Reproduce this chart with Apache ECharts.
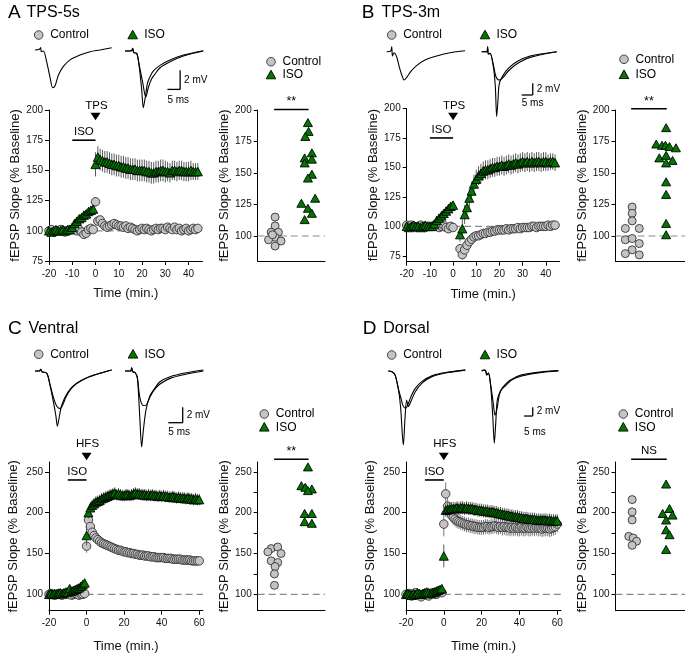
<!DOCTYPE html>
<html><head><meta charset="utf-8">
<script src="https://cdn.jsdelivr.net/npm/echarts@6/dist/echarts.min.js"></script>
<style>html,body{margin:0;padding:0;background:#fff}#c{width:685px;height:657px}</style>
</head><body><div id="c"></div>
<script>
// ================= DATA =================
const timeAB = [-20,-19,-18,-17,-16,-15,-14,-13,-12,-11,-10,-9,-8,-7,-6,-5,-4,-3,-2,-1,0,1,2,3,4,5,6,7,8,9,10,11,12,13,14,15,16,17,18,19,20,21,22,23,24,25,26,27,28,29,30,31,32,33,34,35,36,37,38,39,40,41,42,43,44];
const timeCD = [-20,-19,-18,-17,-16,-15,-14,-13,-12,-11,-10,-9,-8,-7,-6,-5,-4,-3,-2,-1,0,1,2,3,4,5,6,7,8,9,10,11,12,13,14,15,16,17,18,19,20,21,22,23,24,25,26,27,28,29,30,31,32,33,34,35,36,37,38,39,40,41,42,43,44,45,46,47,48,49,50,51,52,53,54,55,56,57,58,59,60];

const timeTicksAB = [-20,-10,0,10,20,30,40];
const timeTicksCD = [-20,0,20,40,60];
const slopeTicksAB = [75,100,125,150,175,200];
const scatterTicksAB = [100,125,150,175,200];
const slopeTicksCD = [100,150,200,250];
const scatterMinorTicksCD = [100,125,150,175,200,225,250];

// Panel A  (TPS-5s) time course
const aCtrl = [100,101,99,100,100,101,100,99,100,101, 101,102,100,101,99,97,98,101,102,101, 124,
  108,109,106,104,103,104,105,106,105,104, 104,103,104,102,103,102,101,100,101,102,
  101,102,101,100,101,102,101,102,102,101, 103,102,101,103,101,102,100,101,102,100, 101,102,101,102];
const aCtrlErr = [1,1,1,1,1,1,1,1,1,1, 2,2,2,2,2,2,2,2,2,2, 4,
  3,3,3,3,3,3,3,3,3,3, 3,3,3,3,3,3,3,3,3,3, 3,3,3,3,3,3,3,3,3,3, 3,3,3,3,3,3,3,3,3,3, 3,3,3,3];
const aIso = [100,99,100,101,100,100,101,100,101,101, 103,106,108,110,111,113,114,116,117,118, 155,
  161,159,158,157,157,156,155,155,154,154, 153,153,152,152,151,151,151,150,150,150,
  150,149,149,148,148,149,149,150,150,149, 149,148,150,150,149,150,150,149,149,149, 150,149,149,149];
const aIsoErr = [2,2,2,2,2,2,2,2,2,2, 3,3,3,3,3,3,3,3,3,3, 10,
  9,9,9,9,9,9,9,9,9,9, 9,9,9,9,9,9,9,9,9,9, 9,9,9,9,9,9,9,9,9,9, 8,8,8,8,8,8,8,8,8,8, 8,7,7,7];

// Panel B  (TPS-3m) time course (no recording during 3-min stimulation)
const bCtrl = [101,100,101,100,99,100,101,100,99,100, 100,100,101,100,99,100,101,99,98,100, 99, null,null,
  81,76,80,84,87,89,91,92, 92,93,94,94,95,95,96,96,97,97, 97,97,98,97,98,98,98,99,98,99,
  99,99,99,100,100,99,100,100,100,100, 101,100,101,101];
const bCtrlErr = [1,1,1,1,1,1,1,1,1,1, 1,1,1,1,1,1,1,1,1,1, 1, null,null,
  3,4,3,3,3,3,3,3, 3,3,3,3,3,3,3,3,3,3, 3,3,3,3,3,3,3,3,3,3, 3,3,3,3,3,3,3,3,3,3, 3,3,3,3];
const bIso = [100,99,100,101,100,100,99,100,101,100, 100,100,102,105,107,109,111,113,115,117, 118, null,null,
  93,98,110,116,124,130,136,140, 143,145,147,148,148,149,150,150,151,151,
  152,151,152,153,152,153,154,153,154,155, 154,155,154,155,154,155,155,154,155,155, 154,155,155,154];
const bIsoErr = [2,2,2,2,2,2,2,2,2,2, 2,2,3,3,3,3,3,3,3,3, 3, null,null,
  6,8,8,8,8,8,8,8, 8,8,8,8,8,8,8,8,8,8, 8,8,8,8,8,8,8,8,8,8, 8,8,8,8,8,8,8,8,8,8, 7,7,7,7];

// Panel C  (Ventral) time course
const cCtrl = [100,101,100,99,100,101,100,99,100,100, 101,100,99,100,101,100,99,100,100,101, 159,
  191,183,176,172,169,167,165,163,162,161, 160,159,158,157,156,155,154,154,153,152,
  152,151,151,150,150,149,149,148,148,148, 147,147,147,146,146,146,145,145,145,145,
  145,144,144,144,144,143,143,143,143,143, 142,142,142,142,142,141,141,141,141,141];
const cCtrlErr = [1,1,1,1,1,1,1,1,1,1, 1,1,1,1,1,1,1,1,1,1, 8,
  6,5,5,4,4,4,4,4,4,4, 4,4,4,4,4,4,4,4,4,4, 4,4,4,4,4,4,4,4,4,4, 4,4,4,4,4,4,4,4,4,4,
  4,4,4,4,4,4,4,4,4,4, 4,4,4,4,4,4,4,4,4,4];
const cIso = [100,101,100,101,100,101,102,101,102,103, 103,107,104,105,106,107,108,110,112,114, 172,
  200,206,209,211,213,214,215,217,218,219, 220,221,222,223,224,222,223,222,221,221,
  222,222,221,222,223,224,223,223,222,222, 222,221,222,221,222,221,221,220,221,220,
  221,220,220,219,219,220,219,218,219,218, 218,218,217,218,217,217,216,217,216,216];
const cIsoErr = [2,2,2,2,2,2,2,2,2,2, 2,2,2,2,2,2,2,2,2,2, 12,
  7,7,7,7,7,7,7,7,7,7, 7,7,7,7,7,7,7,7,7,7, 7,7,7,7,7,7,7,7,7,7, 7,7,7,7,7,7,7,7,7,7,
  7,7,7,7,7,7,7,7,7,7, 7,7,7,7,7,7,7,7,7,7];

// Panel D  (Dorsal) time course
const dCtrl = [100,99,101,98,100,102,99,100,97,100, 101,99,98,100,102,101,100,102,103,102, 186,
  223,208,201,197,194,192,190,189,188,187, 186,185,185,184,184,183,183,182,182,182,
  182,183,183,182,183,183,184,183,182,183, 182,183,182,182,181,182,181,182,181,181,
  182,181,181,182,181,181,182,181,182,181, 181,180,181,181,181,180,181,182,183,186];
const dCtrlErr = [2,2,2,2,2,2,2,2,2,2, 2,2,2,2,2,2,2,2,2,2, 15,
  14,10,9,9,9,9,9,9,9,9, 9,9,9,9,9,9,9,9,9,9, 9,9,9,9,9,9,9,9,9,9, 10,10,10,10,10,10,10,10,10,10,
  10,10,10,10,10,10,10,10,10,10, 10,10,10,10,10,10,10,10,10,10];
const dIso = [100,101,100,99,101,100,102,101,100,101, 102,103,102,101,102,103,104,105,106,107, 147,
  203,204,204,205,205,205,206,205,206,206, 205,206,205,205,205,204,204,203,203,203,
  202,202,202,201,201,201,200,200,199,199, 198,198,197,197,196,196,195,195,195,194,
  194,193,193,193,192,192,192,192,191,191, 191,191,191,191,190,191,190,190,190,190];
const dIsoErr = [2,2,2,2,2,2,2,2,2,2, 2,2,2,2,2,2,2,2,2,2, 14,
  8,8,8,8,8,8,8,8,8,8, 8,8,8,8,8,8,8,8,8,8, 8,8,8,8,8,8,8,8,8,8, 8,8,8,8,8,8,8,8,8,8,
  8,8,8,8,8,8,8,8,8,8, 8,8,8,8,8,8,8,8,8,8];

// Individual experiments (group 1 = Control, group 2 = ISO, with horizontal jitter)
const aScCtrlX = [1,1,0.88,1.1,1,0.8,1.18,1,0.92];
const aScCtrlY = [115,108,103,103,99,97,96,92,101];
const aScIsoX  = [2,2.02,1.92,2.12,1.9,2.12,1.9,2.12,2,2.22,1.8,2,2.12,1.9];
const aScIsoY  = [190,183,179,166,162,161,158,149,146,130,126,122,118,113];
const bScCtrlX = [1,1,1,0.8,1.21,0.8,1,1.21,1,0.8,1.21];
const bScCtrlY = [123,118,112,106,106,97,98,94,89,86,85];
const bScIsoX  = [2,1.71,1.88,1.98,2.1,2.29,1.8,2,2.19,2,2,2,2,2];
const bScIsoY  = [186,173,172,172,171,170,162,164,160,158,143,133,110,101];
const cScCtrlX = [0.88,1.08,0.78,1.18,0.88,1.08,1,0.98,0.98];
const cScCtrlY = [156,158,152,150,141,139,134,125,111];
const cScIsoX  = [2,1.8,1.92,2.12,2,1.9,2.12,1.9,2.12];
const cScIsoY  = [256,233,231,229,227,199,199,189,187];
const dScCtrlX = [1,1,1,0.9,1.03,1.13,1];
const dScCtrlY = [216,201,191,171,169,165,160];
const dScIsoX  = [2,2.1,1.9,2.19,2,2,2.1,2];
const dScIsoY  = [235,205,199,197,191,179,173,155];

// Representative fEPSP traces  [ms, mV]
const aTrCtrl = [[0,-0.07],[1.7,0],[2.2,0.17],[2.5,-0.25],[3.3,-0.18],[4.6,-1.3],[5.9,-2.9],[7.0,-4.0],[7.9,-3.8],[9.2,-2.7],[11.1,-1.8],[13.8,-1.1],[17.7,-0.6],[21.7,-0.25],[25.6,-0.07],[30.2,0.17]];
const aTrIso1 = [[0,0],[2.6,0.03],[3.0,0.28],[3.5,-0.18],[4.6,-0.24],[5.6,-1.65],[6.6,-4.1],[7.2,-5.9],[8.0,-4.8],[8.8,-3.4],[9.8,-2.7],[11.1,-2.1],[13.8,-1.5],[17.7,-0.95],[23.0,-0.42],[30.8,0.03]];
const aTrIso2 = [[0,0],[2.6,0.03],[3.0,0.28],[3.5,-0.18],[4.6,-0.24],[5.6,-1.47],[6.9,-3.2],[8.2,-4.8],[9.2,-3.8],[10.5,-2.9],[11.8,-2.4],[13.8,-1.75],[17.7,-1.13],[23.0,-0.53],[30.8,0]];
const bTrCtrl = [[0,0],[1.8,0.1],[2.3,0.85],[2.6,-0.74],[3.3,-0.17],[4.5,-0.85],[5.7,-2.56],[7.0,-4.15],[7.9,-4.84],[9.1,-4.38],[10.9,-3.42],[13.6,-2.39],[17.4,-1.42],[22.7,-0.74],[28.8,-0.17],[35.6,0.17]];
const bTrIso1 = [[0,0],[2.27,0],[2.7,0.85],[3.0,-0.39],[3.8,-0.27],[5.3,-2.56],[6.2,-5.98],[6.8,-11.1],[7.4,-8.3],[8.0,-5.44],[9.8,-4.0],[12.1,-2.85],[15.9,-1.71],[22.0,-0.74],[34.1,0]];
const bTrIso2 = [[0,0],[2.27,0],[2.7,0.85],[3.0,-0.39],[3.8,-0.27],[5.3,-2.26],[6.5,-4.27],[8.0,-4.84],[9.8,-4.38],[12.1,-3.3],[15.9,-2.1],[22.0,-0.97],[34.1,0]];
const cTrCtrl1 = [[0,0],[1.5,0],[2.0,0.22],[2.4,-0.09],[4.1,-0.3],[5.2,-1.8],[6.4,-4.0],[7.3,-5.9],[7.8,-7.2],[8.5,-5.9],[9.2,-4.6],[10.5,-3.4],[12.2,-2.4],[14.5,-1.6],[18.0,-0.87],[22.6,-0.3],[26.7,0.13]];
const cTrCtrl2 = [[0,0],[1.5,0],[2.0,0.22],[2.4,-0.09],[4.1,-0.3],[5.2,-1.7],[6.4,-3.4],[7.6,-4.6],[8.8,-4.9],[9.8,-4.3],[10.8,-3.4],[12.2,-2.5],[14.5,-1.65],[18.0,-0.9],[22.6,-0.3],[26.7,0.13]];
const cTrIso1 = [[0,0],[2.0,0],[2.3,0.43],[2.7,-0.1],[3.5,-0.2],[4.3,-0.87],[5.2,-6.4],[5.8,-9.9],[6.4,-7.7],[7.3,-5.1],[8.5,-3.4],[9.9,-2.5],[12.2,-1.4],[15.7,-0.74],[21.5,-0.22],[27.3,0.13]];
const cTrIso2 = [[0,0],[2.0,0],[2.3,0.43],[2.7,-0.1],[3.5,-0.2],[4.3,-0.87],[5.2,-3.5],[6.4,-4.5],[7.5,-4.4],[8.7,-3.4],[10.1,-2.5],[12.2,-1.7],[15.7,-0.96],[21.5,-0.4],[27.3,0]];
const dTrCtrl1 = [[0,0],[1.9,-0.1],[3.9,-0.9],[5.8,-4.1],[7.1,-8.3],[8.7,-17.1],[9.6,-11.3],[10.6,-6.7],[11.6,-8.2],[13.0,-7.1],[15.6,-4.8],[19.5,-2.8],[25.2,-1.3],[33.9,-0.4],[44.5,0.2]];
const dTrCtrl2 = [[0,0],[1.9,-0.1],[3.9,-0.9],[5.8,-4.1],[7.1,-6.0],[8.5,-8.0],[10.0,-8.6],[11.5,-7.6],[13.0,-6.0],[15.6,-4.0],[19.5,-2.4],[25.2,-1.1],[33.9,-0.3],[44.5,0.2]];
const dTrIso1 = [[0,0],[1.3,0.23],[2.3,0],[2.9,-0.9],[3.9,-0.5],[5.2,-3.6],[6.4,-10.5],[7.3,-16.7],[8.1,-12.1],[9.0,-6.7],[10.6,-4.8],[12.5,-3.6],[16.4,-2.1],[23.1,-0.9],[33.7,-0.23],[44.3,0.08]];
const dTrIso2 = [[0,0],[1.3,0.23],[2.3,0],[2.9,-0.9],[3.9,-0.5],[5.2,-3.2],[6.7,-7.5],[7.7,-10.2],[8.7,-9.0],[10.2,-5.5],[11.6,-4.2],[13.5,-3.5],[17.3,-2.1],[23.1,-1.15],[33.7,-0.38],[44.3,0]];

// ================= LAYOUT / STYLE =================
const FONT = '"Liberation Sans", Arial, Helvetica, sans-serif';
const GREY = '#c4c4c4', GREEN = '#007800', DARK = '#111';
const BASELINE = 100;

const panels = [
 { letter:'A', title:'TPS-5s', lp:[8,13], tp:[26.5,13],
   time:{box:[49,110,153.5,151], x:[-20,46], y:[75,200], xt:timeTicksAB, yl:slopeTicksAB, ytk:slopeTicksAB,
         t:timeAB, c:aCtrl, ce:aCtrlErr, i:aIso, ie:aIsoErr, xGap:26, yGap:27},
   sc:{box:[257.7,110,67.3,151.2], x:[0.47,2.52], y:[80,200], yl:scatterTicksAB, ytk:scatterTicksAB,
       cx:aScCtrlX, cy:aScCtrlY, ix:aScIsoX, iy:aScIsoY, yGap:26},
   stim:'TPS', stimY:105.5, arrowY:116.5, isoBarY:175, sig:'**', sigY:109.5, sigTextY:102,
   legTop:{c:[38.7,35], i:[132.7,35]}, legSc:{c:[271,61.7], i:[271,75]},
   tr:{c:[35,49.3], i:[125,51], ms:2.54, mv:9.6, cs:[aTrCtrl], is:[aTrIso1,aTrIso2], bar:[21.7,-4.0], msDy:5.5} },
 { letter:'B', title:'TPS-3m', lp:[361.7,13], tp:[381.5,13],
   time:{box:[406.7,108.5,153,153.2], x:[-20,46], y:[70,200], xt:timeTicksAB, yl:slopeTicksAB, ytk:slopeTicksAB,
         t:timeAB, c:bCtrl, ce:bCtrlErr, i:bIso, ie:bIsoErr, xGap:26, yGap:27},
   sc:{box:[615.5,110,72,151.2], x:[0.51,2.63], y:[80,200], yl:scatterTicksAB, ytk:scatterTicksAB,
       cx:bScCtrlX, cy:bScCtrlY, ix:bScIsoX, iy:bScIsoY, yGap:26},
   stim:'TPS', stimY:105.5, arrowY:116.5, isoBarY:175, sig:'**', sigY:108.7, sigTextY:101.5,
   legTop:{c:[391.7,35], i:[485,35]}, legSc:{c:[624,59.3], i:[624,74.7]},
   tr:{c:[386.7,51.7], i:[481.7,51.7], ms:2.2, mv:5.85, cs:[bTrCtrl], is:[bTrIso1,bTrIso2], bar:[23.2,-7.4], msDy:3} },
 { letter:'C', title:'Ventral', lp:[8,328.3], tp:[28.5,328.3],
   time:{box:[49,462,154,148.7], x:[-20,62], y:[80,262], xt:timeTicksCD, yl:slopeTicksCD, ytk:slopeTicksCD,
         t:timeCD, c:cCtrl, ce:cCtrlErr, i:cIso, ie:cIsoErr, xGap:29, yGap:29},
   sc:{box:[257.7,462,67.3,148.7], x:[0.47,2.52], y:[80,262], yl:slopeTicksCD, ytk:scatterMinorTicksCD,
       cx:cScCtrlX, cy:cScCtrlY, ix:cScIsoX, iy:cScIsoY, yGap:25},
   stim:'HFS', stimY:443.7, arrowY:456.5, isoBarY:240, sig:'**', sigY:459.3, sigTextY:451.7,
   legTop:{c:[38.7,354.3], i:[133,354.3]}, legSc:{c:[264.3,414], i:[264.3,427.3]},
   tr:{c:[35,371], i:[125,371], ms:2.87, mv:7.67, cs:[cTrCtrl1,cTrCtrl2], is:[cTrIso1,cTrIso2], bar:[20.1,-6.74], msDy:4.7} },
 { letter:'D', title:'Dorsal', lp:[362.7,328.3], tp:[383.3,328.3],
   time:{box:[406,462,155,148.7], x:[-20,62], y:[80,262], xt:timeTicksCD, yl:slopeTicksCD, ytk:slopeTicksCD,
         t:timeCD, c:dCtrl, ce:dCtrlErr, i:dIso, ie:dIsoErr, xGap:29, yGap:29},
   sc:{box:[615.5,462,72,148.7], x:[0.51,2.63], y:[80,262], yl:slopeTicksCD, ytk:scatterMinorTicksCD,
       cx:dScCtrlX, cy:dScCtrlY, ix:dScIsoX, iy:dScIsoY, yGap:25},
   stim:'HFS', stimY:443.7, arrowY:456.5, isoBarY:240, sig:'NS', sigY:459.3, sigTextY:450.5,
   legTop:{c:[391.7,355], i:[485,355]}, legSc:{c:[623.3,414], i:[623.3,427.3]},
   tr:{c:[388.3,371], i:[481.7,371], ms:1.73, mv:4.33, cs:[dTrCtrl1,dTrCtrl2], is:[dTrIso1,dTrIso2], bar:[29.5,-10.4], msDy:11} }
];

// ================= BUILD =================
const grid = [], xAxis = [], yAxis = [], series = [];
function addGrid(box) {
  grid.push({left:box[0], top:box[1], width:box[2], height:box[3], containLabel:false, outerBoundsMode:'none'});
  return grid.length - 1;
}
function axisBase(gi, min, max, labels, ticks, margin) {
  return { type:'value', gridIndex:gi, min, max, scale:true,
    axisLine:{show:true, onZero:false, lineStyle:{color:'#000', width:1}},
    axisTick:{show:!!ticks, length:4, customValues:ticks || undefined, lineStyle:{color:'#000', width:1}},
    axisLabel:{show:!!labels, customValues:labels || undefined, fontSize:10, color:DARK, fontFamily:FONT, margin:margin},
    splitLine:{show:false} };
}
function nameStyle() { return {fontSize:13, color:DARK, fontFamily:FONT}; }
function hiddenAxis(gi, min, max) {
  return {type:'value', gridIndex:gi, min, max, show:false, splitLine:{show:false}};
}
function errSeries(gi, t, v, e, color, z) {
  const data = [];
  t.forEach((x, k) => { if (v[k] != null && e[k] != null) data.push([x, v[k] - e[k], v[k] + e[k]]); });
  return { type:'custom', xAxisIndex:gi, yAxisIndex:gi, silent:true, z, clip:false, data,
    encode:{x:0, y:[1,2]},
    renderItem:(params, api) => {
      const a = api.coord([api.value(0), api.value(1)]);
      const b = api.coord([api.value(0), api.value(2)]);
      return {type:'line', shape:{x1:a[0], y1:a[1], x2:b[0], y2:b[1]}, style:{stroke:color, lineWidth:1}};
    } };
}
function pairs(xs, ys) { const out = []; xs.forEach((x, k) => { if (ys[k] != null) out.push([x, ys[k]]); }); return out; }
const ctrlStyle = {color:GREY, borderColor:'#333', borderWidth:0.9, opacity:1};
const isoStyle = {color:GREEN, borderColor:'#000', borderWidth:0.9, opacity:1};

panels.forEach(p => {
  // ---- time course ----
  const T = p.time;
  const gT = addGrid(T.box); p.gT = gT;
  xAxis.push(Object.assign(axisBase(gT, T.x[0], T.x[1], T.xt, T.xt, 8),
    {name:'Time (min.)', nameLocation:'middle', nameGap:T.xGap, nameTextStyle:nameStyle()}));
  yAxis.push(Object.assign(axisBase(gT, T.y[0], T.y[1], T.yl, T.ytk, 6),
    {name:'fEPSP Slope (% Baseline)', nameLocation:'middle', nameGap:T.yGap, nameRotate:90, nameTextStyle:nameStyle()}));
  series.push({type:'line', xAxisIndex:gT, yAxisIndex:gT, data:[[0,BASELINE],[T.x[1],BASELINE]], symbol:'none', silent:true, z:1,
    lineStyle:{color:'#8a8a8a', width:1.2, type:[7,4]}});
  series.push(errSeries(gT, T.t, T.c, T.ce, '#7a7a7a', 2));
  series.push({type:'scatter', xAxisIndex:gT, yAxisIndex:gT, data:pairs(T.t, T.c), symbol:'circle', symbolSize:8.5, z:3,
    itemStyle:ctrlStyle});
  series.push(errSeries(gT, T.t, T.i, T.ie, '#5a5a5a', 4));
  series.push({type:'scatter', xAxisIndex:gT, yAxisIndex:gT, data:pairs(T.t, T.i), symbol:'triangle', symbolSize:[9,8.5], z:5,
    itemStyle:isoStyle});

  // ---- individual scatter ----
  const S = p.sc;
  const gS = addGrid(S.box); p.gS = gS;
  xAxis.push(axisBase(gS, S.x[0], S.x[1], null, null, 8));
  yAxis.push(Object.assign(axisBase(gS, S.y[0], S.y[1], S.yl, S.ytk, 6),
    {name:'fEPSP Slope (% Baseline)', nameLocation:'middle', nameGap:S.yGap, nameRotate:90, nameTextStyle:nameStyle()}));
  series.push({type:'line', xAxisIndex:gS, yAxisIndex:gS, data:[[S.x[0],BASELINE],[S.x[1],BASELINE]], symbol:'none', silent:true, z:1,
    lineStyle:{color:'#8a8a8a', width:1.2, type:[7,4]}});
  series.push({type:'scatter', xAxisIndex:gS, yAxisIndex:gS, data:pairs(S.cx, S.cy), symbol:'circle', symbolSize:8, z:3,
    itemStyle:ctrlStyle});
  series.push({type:'scatter', xAxisIndex:gS, yAxisIndex:gS, data:pairs(S.ix, S.iy), symbol:'triangle', symbolSize:[9,8], z:5,
    itemStyle:isoStyle});

  // ---- traces ----
  const R = p.tr;
  const X0 = 0, X1 = 50, Y0 = -20, Y1 = 2;
  [['c', R.cs], ['i', R.is]].forEach(([k, list]) => {
    const o = R[k];
    const g = addGrid([o[0], o[1] - Y1 * R.mv, (X1 - X0) * R.ms, (Y1 - Y0) * R.mv]);
    xAxis.push(hiddenAxis(g, X0, X1));
    yAxis.push(hiddenAxis(g, Y0, Y1));
    if (k === 'i') p.gI = g;
    list.forEach(tr => series.push({type:'line', xAxisIndex:g, yAxisIndex:g, data:tr, symbol:'none', smooth:0.3, silent:true, z:2,
      lineStyle:{color:'#000', width:1.1}}));
  });
});

const chart = echarts.init(document.getElementById('c'), null, {renderer:'canvas', width:685, height:657});
chart.setOption({animation:false, backgroundColor:'#fff', grid, xAxis, yAxis, series});

// ================= ANNOTATIONS =================
const G = [];
function text(x, y, str, size, align, va) {
  G.push({type:'text', x, y, silent:true, z:100,
    style:{text:str, fill:'#000', font:size + 'px ' + FONT, align:align || 'left', verticalAlign:va || 'middle'}});
}
function circle(x, y) { G.push({type:'circle', z:100, shape:{cx:x, cy:y, r:4.3}, style:{fill:GREY, stroke:'#333', lineWidth:0.9}}); }
function tri(x, y) { G.push({type:'polygon', z:100, shape:{points:[[x, y-4.8],[x-4.8, y+3.8],[x+4.8, y+3.8]]}, style:{fill:GREEN, stroke:'#000', lineWidth:0.9}}); }
function seg(x1, y1, x2, y2, w) { G.push({type:'line', z:100, shape:{x1, y1, x2, y2}, style:{stroke:'#000', lineWidth:w || 1}}); }
function arrow(x, y) { G.push({type:'polygon', z:100, shape:{points:[[x-5, y-3.8],[x+5, y-3.8],[x, y+3.8]]}, style:{fill:'#000'}}); }
const px = (gi, v) => chart.convertToPixel({gridIndex:gi}, v);

panels.forEach(p => {
  text(p.lp[0], p.lp[1], p.letter, 19);
  text(p.tp[0], p.tp[1], p.title, 16);
  circle(p.legTop.c[0], p.legTop.c[1]); text(p.legTop.c[0] + 11.5, p.legTop.c[1], 'Control', 12);
  tri(p.legTop.i[0], p.legTop.i[1]);     text(p.legTop.i[0] + 11.5, p.legTop.i[1], 'ISO', 12);
  circle(p.legSc.c[0], p.legSc.c[1]);   text(p.legSc.c[0] + 11.5, p.legSc.c[1], 'Control', 12);
  tri(p.legSc.i[0], p.legSc.i[1]);       text(p.legSc.i[0] + 11.5, p.legSc.i[1], 'ISO', 12);

  // stimulation arrow at t = 0
  const s0 = px(p.gT, [0, BASELINE]);
  arrow(s0[0], p.arrowY);
  text(s0[0] + 1, p.stimY, p.stim, 11.5, 'center');
  // ISO application bar (-10 to 0 min)
  const b1 = px(p.gT, [-10, p.isoBarY]), b2 = px(p.gT, [0, p.isoBarY]);
  seg(b1[0], b1[1], b2[0], b2[1], 1.6);
  text((b1[0] + b2[0]) / 2, b1[1] - 8, 'ISO', 11.5, 'center');
  // significance bar
  const g1 = px(p.gS, [0.97, BASELINE]), g2 = px(p.gS, [2.02, BASELINE]);
  seg(g1[0], p.sigY, g2[0], p.sigY, 1.5);
  text((g1[0] + g2[0]) / 2, p.sigTextY, p.sig, p.sig === 'NS' ? 11.5 : 12.5, 'center');
  // scale bars (5 ms, 2 mV) in ISO-trace coordinates
  const R = p.tr;
  const c0 = px(p.gI, [R.bar[0], R.bar[1]]);
  const cUp = px(p.gI, [R.bar[0], R.bar[1] + 2]);
  const cL = px(p.gI, [R.bar[0] - 5, R.bar[1]]);
  seg(c0[0], c0[1], cUp[0], cUp[1], 1.3);
  seg(cL[0], c0[1], c0[0], c0[1], 1.3);
  text(c0[0] + 4, (c0[1] + cUp[1]) / 2, '2 mV', 10);
  text(cL[0], c0[1] + R.msDy, '5 ms', 10, 'left', 'top');
});
chart.setOption({graphic: G});
</script></body></html>
